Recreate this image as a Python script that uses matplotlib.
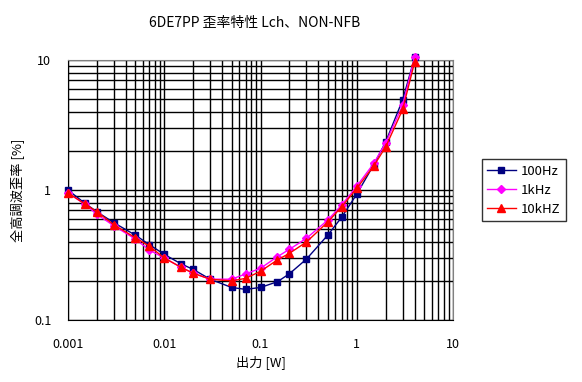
import matplotlib
matplotlib.use("Agg")
import matplotlib.pyplot as plt
from matplotlib.ticker import LogLocator, FixedLocator, FixedFormatter, NullFormatter

plt.rcParams['font.family'] = ['Noto Sans CJK JP', 'DejaVu Sans']

# output power [W]
power = [0.001, 0.0015, 0.002, 0.003, 0.005, 0.007, 0.01, 0.015, 0.02, 0.03,
         0.05, 0.07, 0.1, 0.15, 0.2, 0.3, 0.5, 0.7, 1, 1.5, 2, 3, 4]

# THD [%]
thd_100hz = [1.0, 0.79, 0.68, 0.56, 0.45, 0.38, 0.32, 0.27, 0.245, 0.206,
             0.178, 0.172, 0.178, 0.197, 0.227, 0.294, 0.45, 0.62, 0.93, 1.56,
             2.35, 4.95, 10.5]
thd_1khz = [0.95, 0.776, 0.65, 0.53, 0.42, 0.345, 0.30, 0.254, 0.229, 0.206,
            0.206, 0.226, 0.25, 0.307, 0.35, 0.425, 0.587, 0.77, 1.07, 1.6,
            2.31, 4.5, 10.6]
thd_10khz = [0.95, 0.78, 0.68, 0.54, 0.43, 0.37, 0.30, 0.254, 0.229, 0.206,
             0.20, 0.209, 0.237, 0.29, 0.326, 0.398, 0.567, 0.745, 1.03, 1.53,
             2.15, 4.17, 9.7]

x_ticks = [0.001, 0.01, 0.1, 1, 10]
x_tick_labels = ['0.001', '0.01', '0.1', '1', '10']
y_ticks = [0.1, 1, 10]
y_tick_labels = ['0.1', '1', '10']

fig = plt.figure(figsize=(5.82, 3.82), dpi=100)
ax = fig.add_axes([0.1168, 0.1623, 0.6616, 0.6806])

ax.plot(power, thd_100hz, color='#000080', marker='s', markersize=5,
        linewidth=1, label='100Hz', clip_on=False, zorder=3)
ax.plot(power, thd_1khz, color='#FF00FF', marker='D', markersize=4.5,
        linewidth=1, label='1kHz', clip_on=False, zorder=4)
ax.plot(power, thd_10khz, color='#FF0000', marker='^', markersize=5.5,
        linewidth=1, label='10kHZ', clip_on=False, zorder=5)

ax.set_xscale('log')
ax.set_yscale('log')
ax.set_xlim(0.001, 10)
ax.set_ylim(0.1, 10)

ax.xaxis.set_major_locator(FixedLocator(x_ticks))
ax.xaxis.set_major_formatter(FixedFormatter(x_tick_labels))
ax.yaxis.set_major_locator(FixedLocator(y_ticks))
ax.yaxis.set_major_formatter(FixedFormatter(y_tick_labels))
ax.xaxis.set_minor_locator(LogLocator(base=10, subs=range(2, 10)))
ax.yaxis.set_minor_locator(LogLocator(base=10, subs=range(2, 10)))
ax.xaxis.set_minor_formatter(NullFormatter())
ax.yaxis.set_minor_formatter(NullFormatter())

ax.grid(True, which='both', color='black', linewidth=1)
ax.set_axisbelow(True)
ax.tick_params(which='both', length=0, labelsize=9, colors='black')
ax.tick_params(axis='x', pad=13)
ax.tick_params(axis='y', pad=12)

for side in ['top', 'right']:
    ax.spines[side].set_color('#808080')
for side in ['left', 'bottom']:
    ax.spines[side].set_color('black')

ax.set_xlabel('出力 [W]', fontsize=9.5, labelpad=3)
ax.set_ylabel('全高調波歪率 [%]', fontsize=9.5, labelpad=7)
fig.text(0.438, 0.94, '6DE7PP 歪率特性 Lch、NON-NFB', fontsize=10,
         ha='center', va='center')

leg = ax.legend(loc='upper left', bbox_to_anchor=(1.057, 0.643), fontsize=9.5,
                frameon=True, fancybox=False, edgecolor='black',
                handlelength=2.2, borderpad=0.4, labelspacing=0.45,
                handletextpad=0.4)
leg.get_frame().set_linewidth(1)

fig.savefig('out.png', dpi=100)
